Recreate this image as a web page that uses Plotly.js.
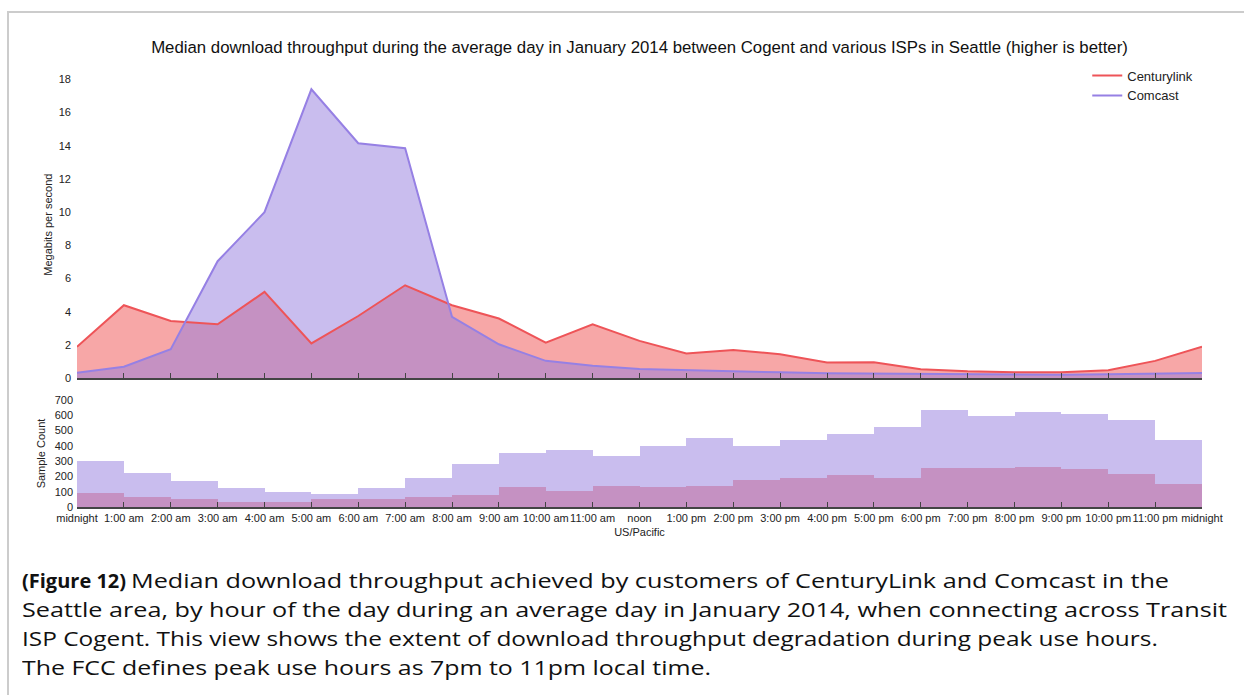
<!DOCTYPE html>
<html>
<head>
<meta charset="utf-8">
<script src="https://cdn.plot.ly/plotly-3.0.1.min.js"></script>
<style>
  body { margin: 0; background: #fff; }
  #frame {
    position: absolute; left: 7px; top: 11px; width: 1237px; height: 684px;
    border-left: 2px solid #cccccc; border-top: 2px solid #cccccc;
  }
  #chart { position: absolute; left: 0; top: 0; width: 1244px; height: 560px; }
  #caption {
    position: absolute; left: 22px; top: 566px; white-space: nowrap;
    font-family: "Open Sans", sans-serif; font-size: 20px; line-height: 29px; color: #111;
  }
  #caption .ln { height: 29px; }
  #caption .wide { display: inline-block; transform: scaleX(1.26); transform-origin: 0 50%; }
</style>
</head>
<body>
<div id="frame"></div>
<div id="chart"></div>
<div id="caption">
  <div class="ln"><b>(Figure 12)</b> <span class="wide">Median download throughput achieved by customers of CenturyLink and Comcast in the</span></div>
  <div class="ln"><span class="wide">Seattle area, by hour of the day during an average day in January 2014, when connecting across Transit</span></div>
  <div class="ln"><span class="wide" style="transform: scaleX(1.22)">ISP Cogent. This view shows the extent of download throughput degradation during peak use hours.</span></div>
  <div class="ln"><span class="wide" style="transform: scaleX(1.245)">The FCC defines peak use hours as 7pm to 11pm local time.</span></div>
</div>
<script>
// hour labels, midnight to midnight
const hourLabels = [
  "midnight", "1:00 am", "2:00 am", "3:00 am", "4:00 am", "5:00 am", "6:00 am",
  "7:00 am", "8:00 am", "9:00 am", "10:00 am", "11:00 am", "noon",
  "1:00 pm", "2:00 pm", "3:00 pm", "4:00 pm", "5:00 pm", "6:00 pm",
  "7:00 pm", "8:00 pm", "9:00 pm", "10:00 pm", "11:00 pm", "midnight"
];

// median throughput (Mbps) at each hour mark
const centurylinkMbps = [1.9, 4.4, 3.45, 3.25, 5.2, 2.1, 3.75, 5.6, 4.4, 3.6, 2.15, 3.25, 2.25,
  1.5, 1.7, 1.45, 0.95, 0.97, 0.55, 0.42, 0.37, 0.37, 0.48, 1.05, 1.9];
const comcastMbps = [0.34, 0.7, 1.75, 7.05, 10.0, 17.4, 14.15, 13.85, 3.7, 2.05, 1.05, 0.76, 0.56,
  0.48, 0.44, 0.36, 0.3, 0.28, 0.25, 0.23, 0.22, 0.22, 0.24, 0.27, 0.32];

// sample counts per hour bucket
const centurylinkCount = [90, 64, 51, 35, 35, 51, 51, 64, 81, 129, 107, 136,
  131, 136, 175, 188, 208, 188, 254, 254, 260, 249, 214, 153];
const comcastCount = [298, 225, 173, 125, 101, 88, 127, 190, 282, 350, 372, 333,
  400, 449, 400, 440, 475, 525, 634, 593, 621, 606, 569, 436];

const hours = hourLabels.map((_, i) => i);

const red = "rgb(238,84,88)";
const redFill = "rgba(240,80,80,0.5)";
const purple = "rgb(150,128,228)";
const purpleFill = "rgba(147,123,221,0.5)";

const traces = [];

// filled areas first so both lines sit on top
traces.push({ x: hours, y: centurylinkMbps, xaxis: "x2", yaxis: "y2", mode: "lines",
  fill: "tozeroy", fillcolor: redFill, line: { width: 0 }, showlegend: false, hoverinfo: "skip" });
traces.push({ x: hours, y: comcastMbps, xaxis: "x2", yaxis: "y2", mode: "lines",
  fill: "tozeroy", fillcolor: purpleFill, line: { width: 0 }, showlegend: false, hoverinfo: "skip" });
traces.push({ x: hours, y: centurylinkMbps, xaxis: "x2", yaxis: "y2", mode: "lines",
  name: "Centurylink", line: { color: red, width: 2 } });
traces.push({ x: hours, y: comcastMbps, xaxis: "x2", yaxis: "y2", mode: "lines",
  name: "Comcast", line: { color: purple, width: 2 } });

// sample count steps
const bucketCenters = centurylinkCount.map((_, i) => i + 0.5);
traces.push({ type: "bar", x: bucketCenters, y: centurylinkCount, width: 1,
  marker: { color: redFill, line: { width: 0 } }, showlegend: false });
traces.push({ type: "bar", x: bucketCenters, y: comcastCount, width: 1,
  marker: { color: purpleFill, line: { width: 0 } }, showlegend: false });

const tickFont = { family: "Liberation Sans, Arial, sans-serif", size: 11, color: "#222" };

const layout = {
  width: 1244,
  height: 560,
  margin: { l: 77, r: 42, t: 40, b: 53 },
  paper_bgcolor: "rgba(0,0,0,0)",
  plot_bgcolor: "rgba(0,0,0,0)",
  font: { family: "Liberation Sans, Arial, sans-serif", color: "#222" },
  title: {
    text: "Median download throughput during the average day in January 2014 between Cogent and various ISPs in Seattle (higher is better)",
    font: { size: 16.8, color: "#111" },
    xref: "paper", x: 0.5, yref: "container", y: 0.916, yanchor: "middle"
  },
  barmode: "overlay",
  bargap: 0,
  showlegend: true,
  legend: {
    x: 0.898, xanchor: "left", y: 0.956, yanchor: "top",
    font: { size: 13, color: "#222" }, bgcolor: "rgba(0,0,0,0)", tracegroupgap: 0
  },
  xaxis: {
    range: [0, 24], domain: [0, 1], anchor: "y",
    tickvals: hours, ticktext: hourLabels, tickfont: tickFont, tickangle: 0,
    showline: true, linecolor: "#444", linewidth: 2,
    ticks: "inside", ticklen: 5, tickcolor: "#444", showgrid: false, zeroline: false,
    title: { text: "US/Pacific", font: { size: 11, color: "#222" }, standoff: 5 }
  },
  yaxis: {
    range: [0, 700], domain: [0, 0.2291], anchor: "x",
    tickvals: [0, 100, 200, 300, 400, 500, 600, 700], tickfont: tickFont,
    showgrid: true, gridcolor: "#ffffff", gridwidth: 1, zeroline: false, showline: false,
    ticklabelstandoff: 3,
    title: { text: "Sample Count", font: { size: 11, color: "#222" }, standoff: 6 }
  },
  xaxis2: {
    range: [0, 24], domain: [0, 1], anchor: "y2",
    tickvals: hours, showticklabels: false,
    showline: true, linecolor: "#444", linewidth: 2,
    ticks: "inside", ticklen: 5, tickcolor: "#444", showgrid: false, zeroline: false
  },
  yaxis2: {
    range: [0, 18.5], domain: [0.2756, 0.9336], anchor: "x2",
    tickvals: [0, 2, 4, 6, 8, 10, 12, 14, 16, 18], tickfont: tickFont,
    showgrid: true, gridcolor: "#ffffff", gridwidth: 1, zeroline: false, showline: false,
    ticklabelstandoff: 5,
    title: { text: "Megabits per second", font: { size: 11, color: "#222" }, standoff: 3 }
  }
};

Plotly.newPlot("chart", traces, layout, { displayModeBar: false, responsive: false });
</script>
</body>
</html>
